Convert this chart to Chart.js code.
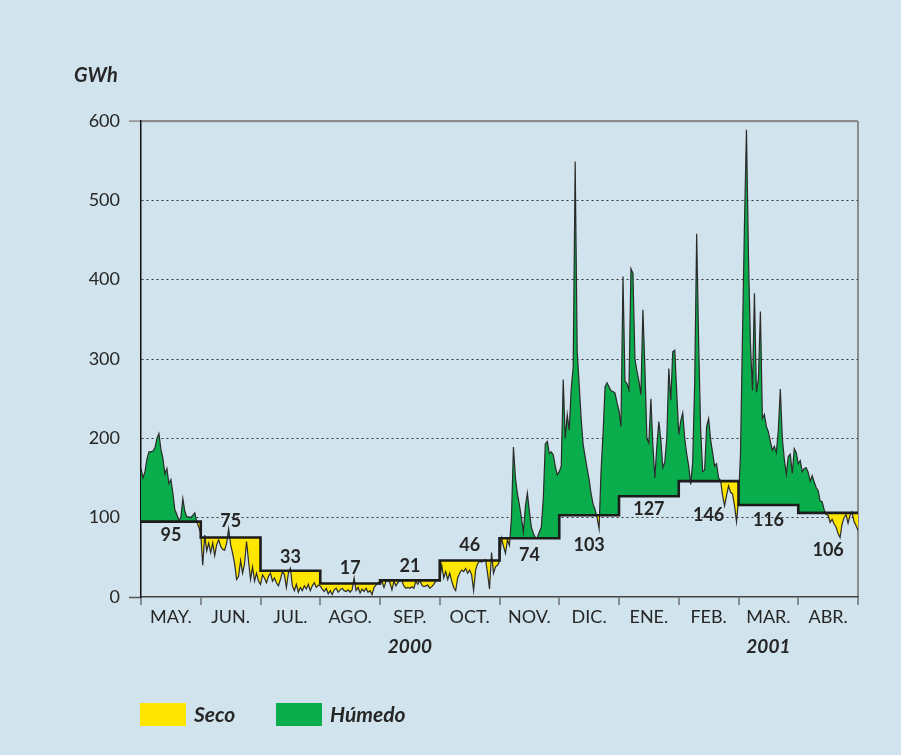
<!DOCTYPE html>
<html>
<head>
<meta charset="utf-8">
<script src="https://cdn.jsdelivr.net/npm/chart.js@4.4.1/dist/chart.umd.min.js"></script>
<style>
  html, body { margin: 0; padding: 0; background: #d1e3ec; }
  #wrap { width: 901px; height: 755px; }
</style>
</head>
<body>
<div id="wrap"><canvas id="hydro" width="901" height="755"></canvas></div>
<script>
// months of the hydrological year, May 2000 - April 2001
var months = ['MAY.', 'JUN.', 'JUL.', 'AGO.', 'SEP.', 'OCT.', 'NOV.', 'DIC.', 'ENE.', 'FEB.', 'MAR.', 'ABR.'];
var years = ['2000', '2001'];
var yearUnderMonth = [4, 10];
var yTicks = [0, 100, 200, 300, 400, 500, 600];

// monthly mean (GWh)
var monthlyAverage = [95, 75, 33, 17, 21, 46, 74, 103, 127, 146, 116, 106];

// daily energy (GWh)
var may = [162, 150, 158, 174, 183, 183, 184, 188, 200, 206, 186, 175, 155, 162, 143, 148, 131, 110, 104, 96, 100, 124, 108, 101, 101, 100, 103, 106, 95, 88];
var jun = [80, 40, 78, 58, 68, 56, 68, 52, 66, 72, 64, 60, 59, 68, 86, 66, 55, 42, 22, 26, 46, 30, 42, 70, 45, 22, 38, 20, 30, 20];
var jul = [16, 28, 24, 18, 26, 30, 20, 24, 18, 14, 22, 32, 28, 12, 30, 36, 14, 8, 16, 6, 12, 8, 14, 10, 16, 8, 14, 18, 12, 15];
var ago = [14, 10, 7, 11, 4, 8, 3, 9, 11, 6, 9, 11, 8, 7, 9, 6, 9, 24, 8, 12, 5, 10, 7, 11, 6, 8, 3, 12, 15, 18];
var sep = [16, 20, 12, 20, 21, 18, 9, 20, 14, 18, 21, 20, 14, 11, 12, 11, 13, 11, 20, 16, 21, 15, 13, 14, 15, 11, 13, 16, 20, 22];
var oct = [22, 40, 24, 32, 22, 30, 20, 12, 8, 24, 30, 34, 32, 36, 30, 34, 28, 8, 34, 42, 45, 44, 46, 47, 30, 10, 56, 30, 38, 40];
var nov = [45, 74, 64, 55, 72, 65, 100, 189, 150, 130, 116, 100, 82, 114, 131, 108, 88, 80, 75, 75, 82, 88, 125, 193, 196, 181, 183, 179, 165, 154];
var dic = [158, 165, 274, 200, 230, 210, 262, 290, 549, 310, 268, 225, 192, 177, 162, 148, 130, 117, 110, 100, 86, 160, 206, 265, 270, 265, 260, 259, 257, 245];
var ene = [235, 215, 404, 272, 269, 261, 414, 408, 300, 285, 272, 255, 362, 290, 200, 194, 250, 192, 150, 190, 221, 198, 163, 170, 200, 288, 248, 309, 311, 257];
var feb = [205, 222, 232, 200, 180, 165, 142, 170, 270, 458, 320, 210, 158, 160, 215, 225, 198, 182, 165, 168, 150, 147, 128, 115, 128, 140, 132, 130, 115, 95];
var mar = [122, 180, 330, 470, 589, 430, 320, 260, 383, 258, 275, 360, 225, 230, 215, 208, 196, 185, 190, 182, 210, 262, 200, 174, 155, 177, 180, 156, 187, 182];
var abr = [168, 172, 158, 162, 163, 157, 146, 153, 145, 138, 134, 121, 120, 110, 104, 103, 94, 98, 92, 88, 80, 75, 92, 100, 104, 93, 103, 107, 95, 90];
var lastDay = 84;

var dailyByMonth = [may, jun, jul, ago, sep, oct, nov, dic, ene, feb, mar, abr];

var YELLOW = '#ffe600';
var GREEN = '#0aad4b';
var INK = '#262626';

var dailyPoints = [];
dailyByMonth.forEach(function (values, m) {
    values.forEach(function (v, i) {
        dailyPoints.push({ x: m + i / values.length, y: v });
    });
});
dailyPoints.push({ x: 12, y: lastDay });

var stepPoints = monthlyAverage.map(function (v, m) { return { x: m, y: v }; });
stepPoints.push({ x: 12, y: monthlyAverage[monthlyAverage.length - 1] });

// vertical nudge (px) of each monthly figure from its step
var labelNudge = [14, -16, -14, -15, -14, -15, 17, 30, 13, 34, 15, 37];

var decorations = {
    id: 'decorations',
    afterDatasetsDraw: function (chart) {
        var ctx = chart.ctx;
        var xs = chart.scales.x, ys = chart.scales.y;
        ctx.save();
        ctx.fillStyle = INK;
        ctx.font = 'bold 18px Lato';
        ctx.textAlign = 'center';
        ctx.textBaseline = 'middle';
        monthlyAverage.forEach(function (v, m) {
            ctx.fillText(String(v), xs.getPixelForValue(m + 0.5), ys.getPixelForValue(v) + labelNudge[m]);
        });
        ctx.restore();
    },
    afterDraw: function (chart) {
        var ctx = chart.ctx;
        var area = chart.chartArea;
        var xs = chart.scales.x;
        ctx.save();
        ctx.fillStyle = INK;
        ctx.textAlign = 'center';
        ctx.textBaseline = 'middle';
        ctx.font = '18px Lato';
        months.forEach(function (name, m) {
            ctx.fillText(name, xs.getPixelForValue(m + 0.5), area.bottom + 20);
        });
        ctx.font = 'italic bold 19px Lato';
        years.forEach(function (y, i) {
            ctx.fillText(y, xs.getPixelForValue(yearUnderMonth[i] + 0.5), area.bottom + 50);
        });
        ctx.textAlign = 'left';
        ctx.font = 'italic bold 20px Lato';
        ctx.fillText('GWh', area.left - 67, area.top - 45);

        // legend
        var ly = area.bottom + 106;
        ctx.font = 'italic bold 21px Lato';
        ctx.fillStyle = YELLOW;
        ctx.fillRect(area.left - 1, ly, 46, 23);
        ctx.fillStyle = INK;
        ctx.fillText('Seco', area.left + 53, ly + 12);
        ctx.fillStyle = GREEN;
        ctx.fillRect(area.left + 135, ly, 46, 23);
        ctx.fillStyle = INK;
        ctx.fillText('Húmedo', area.left + 189, ly + 12);
        ctx.restore();
    }
};

var canvas = document.getElementById('hydro');
var chart = new Chart(canvas.getContext('2d'), {
    type: 'line',
    data: {
        datasets: [{
            label: 'Diario',
            data: dailyPoints,
            borderColor: '#2b2b2b',
            borderWidth: 1.2,
            pointRadius: 0,
            tension: 0,
            order: 1,
            fill: { target: 1, above: GREEN, below: YELLOW }
        }, {
            label: 'Media mensual',
            data: stepPoints,
            stepped: true,
            borderColor: '#1c1c1c',
            borderWidth: 2.6,
            pointRadius: 0,
            order: 0,
            fill: false
        }]
    },
    options: {
        responsive: false,
        animation: false,
        devicePixelRatio: 1,
        layout: { padding: { top: 121, right: 43, bottom: 0, left: 0 } },
        plugins: {
            legend: { display: false },
            tooltip: { enabled: false },
            filler: { drawTime: 'beforeDatasetsDraw' }
        },
        scales: {
            x: {
                type: 'linear',
                min: 0,
                max: 12,
                afterBuildTicks: function (s) {
                    s.ticks = months.map(function (_, m) { return { value: m }; }).concat([{ value: 12 }]);
                },
                afterFit: function (s) { s.height = 158; },
                ticks: { display: false },
                grid: {
                    color: function (c) { return c.tick && c.tick.value === 12 ? '#8c8c8c' : 'rgba(0,0,0,0)'; },
                    lineWidth: 2,
                    tickLength: 8,
                    tickColor: '#555',
                    tickWidth: 1.2
                },
                border: { color: '#444', width: 1.5 }
            },
            y: {
                min: 0,
                max: 600,
                afterBuildTicks: function (s) {
                    s.ticks = yTicks.map(function (v) { return { value: v }; });
                },
                afterFit: function (s) { s.width = 141; },
                ticks: {
                    color: INK,
                    padding: 9,
                    font: { family: 'Lato', size: 18 }
                },
                grid: {
                    color: function (c) {
                        if (!c.tick) return '#333';
                        if (c.tick.value === 600) return '#8c8c8c';
                        if (c.tick.value === 0) return 'rgba(0,0,0,0)';
                        return '#333';
                    },
                    lineWidth: function (c) { return c.tick && c.tick.value === 600 ? 2.2 : 1; },
                    tickLength: 12,
                    tickColor: function (c) {
                        if (!c.tick) return 'rgba(0,0,0,0)';
                        if (c.tick.value === 600) return '#8c8c8c';
                        if (c.tick.value === 0) return '#555';
                        return 'rgba(0,0,0,0)';
                    },
                    tickWidth: 1.5
                },
                border: {
                    color: '#111',
                    width: 1.5,
                    dash: function (c) {
                        return c.tick && c.tick.value !== 600 && c.tick.value !== 0 ? [2, 3] : [];
                    }
                }
            }
        }
    },
    plugins: [decorations]
});
</script>
</body>
</html>
